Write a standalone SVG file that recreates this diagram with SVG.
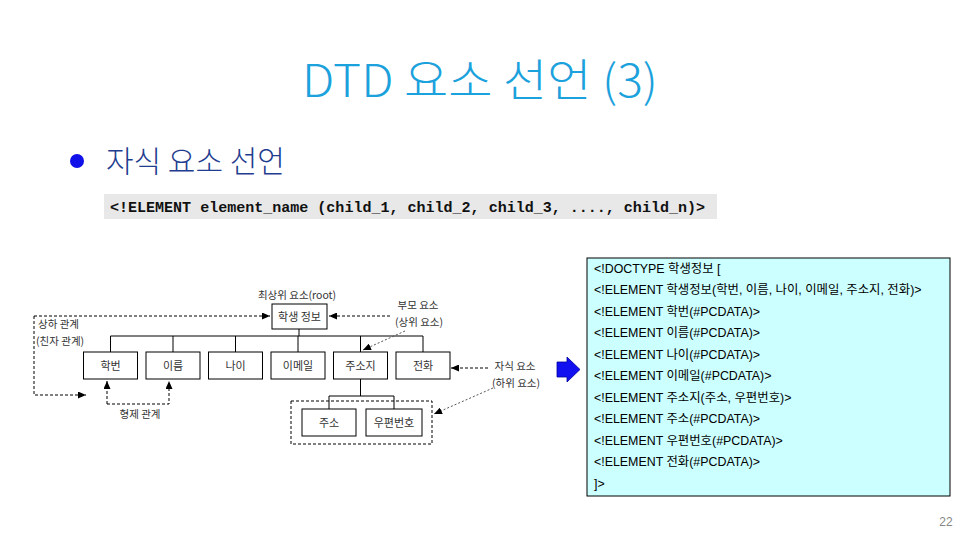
<svg xmlns="http://www.w3.org/2000/svg" width="960" height="540" viewBox="0 0 960 540">
<style>
.title{font-family:"Noto Sans CJK KR","Noto Sans",sans-serif;font-size:45px;fill:#1ba1dc;font-weight:300}
.sub{font-family:"Noto Sans CJK KR",sans-serif;font-size:30px;fill:#1f3d8f;font-weight:300}
.code{font-family:"Liberation Mono",monospace;font-size:15px;font-weight:bold;fill:#111}
.box{fill:#fff;stroke:#000;stroke-width:1}
.bl{font-family:"Noto Sans CJK KR",sans-serif;font-size:11px;fill:#333;text-anchor:middle}
.lbl{font-family:"Noto Sans CJK KR",sans-serif;font-size:10.5px;fill:#333}
.ln{stroke:#000;stroke-width:1;fill:none}
.dash{stroke:#000;stroke-width:1;fill:none;stroke-dasharray:3,2}
.dot{stroke:#555;stroke-width:1;fill:none;stroke-dasharray:2,2}
.dtd{font-family:"Liberation Sans","Noto Sans CJK KR",sans-serif;font-size:12.4px;fill:#000}
</style>
<defs>
<marker id="ah" markerUnits="userSpaceOnUse" markerWidth="9" markerHeight="7" refX="8" refY="3.5" orient="auto">
<path d="M0,0 L8,3.5 L0,7 z" fill="#000"/>
</marker>
</defs>
<rect width="960" height="540" fill="#fff"/>
<text class="title" x="480" y="97" text-anchor="middle" textLength="356" lengthAdjust="spacingAndGlyphs">DTD 요소 선언 (3)</text>
<circle cx="77" cy="161" r="7" fill="#1010e8"/>
<text class="sub" x="106" y="172">자식 요소 선언</text>
<rect x="104" y="194" width="613" height="25" fill="#e8e8e8"/>
<text class="code" x="110" y="212" textLength="595" lengthAdjust="spacingAndGlyphs">&lt;!ELEMENT element_name (child_1, child_2, child_3, ...., child_n)&gt;</text>

<g id="connectors">
<path class="ln" d="M299,329 V336 M110.5,336 H423 M110.5,336 V352 M173,336 V352 M235.5,336 V352 M298,336 V352 M360.5,336 V352 M423,336 V352"/>
<path class="ln" d="M360.5,379 V396 M329,396 H394 M329,396 V409 M394,396 V409"/>
<path class="dash" d="M34,316 H270" marker-end="url(#ah)"/>
<path class="dash" d="M34,316 V395 H86" marker-end="url(#ah)"/>
<path class="dash" d="M107,404 V381" marker-end="url(#ah)"/>
<path class="dash" d="M107,404 H169 V381" marker-end="url(#ah)"/>
<path class="dash" d="M390,316 H329" marker-end="url(#ah)"/>
<path class="dot" d="M405,331 L363,350" marker-end="url(#ah)"/>
<path class="dash" d="M488,368 H451" marker-end="url(#ah)"/>
<path class="dot" d="M493,388 L434,414" marker-end="url(#ah)"/>
<rect class="dash" x="291" y="401" width="141" height="43"/>
</g>

<text class="lbl" x="297" y="299" text-anchor="middle">최상위 요소(root)</text>
<text class="lbl" x="418" y="309" text-anchor="middle">부모 요소</text>
<text class="lbl" x="419" y="326" text-anchor="middle">(상위 요소)</text>
<text class="lbl" x="38" y="328">상하 관계</text>
<text class="lbl" x="36" y="345">(친자 관계)</text>
<text class="lbl" x="515" y="370" text-anchor="middle">자식 요소</text>
<text class="lbl" x="516" y="387" text-anchor="middle">(하위 요소)</text>
<text class="lbl" x="140" y="418" text-anchor="middle">형제 관계</text>

<g id="n-root"><rect class="box" x="272" y="304" width="55" height="25"/><text class="bl" x="299.5" y="321">학생 정보</text></g>
<g id="n-hakbeon"><rect class="box" x="83.5" y="352" width="54" height="27"/><text class="bl" x="110.5" y="370">학번</text></g>
<g id="n-ireum"><rect class="box" x="146" y="352" width="54" height="27"/><text class="bl" x="173" y="370">이름</text></g>
<g id="n-nai"><rect class="box" x="208.5" y="352" width="54" height="27"/><text class="bl" x="235.5" y="370">나이</text></g>
<g id="n-email"><rect class="box" x="271" y="352" width="54" height="27"/><text class="bl" x="298" y="370">이메일</text></g>
<g id="n-juso-ji"><rect class="box" x="333.5" y="352" width="54" height="27"/><text class="bl" x="360.5" y="370">주소지</text></g>
<g id="n-jeonhwa"><rect class="box" x="396" y="352" width="54" height="27"/><text class="bl" x="423" y="370">전화</text></g>
<g id="n-juso"><rect class="box" x="302" y="409" width="54" height="27"/><text class="bl" x="329" y="427">주소</text></g>
<g id="n-upyeon"><rect class="box" x="366" y="409" width="56" height="27"/><text class="bl" x="394" y="427">우편번호</text></g>

<g id="blue-arrow"><path d="M557,362 H567 V357 L580,369.5 L567,382 V377 H557 z" fill="#1010f0" stroke="#0000a0" stroke-width="0.8"/></g>

<g id="dtd-box">
<rect x="587" y="258" width="363" height="238" fill="#ccffff" stroke="#000" stroke-width="1"/>
<text class="dtd" x="594" y="272.5">&lt;!DOCTYPE 학생정보 [</text>
<text class="dtd" x="594" y="294">&lt;!ELEMENT 학생정보(학번, 이름, 나이, 이메일, 주소지, 전화)&gt;</text>
<text class="dtd" x="594" y="315.5">&lt;!ELEMENT 학번(#PCDATA)&gt;</text>
<text class="dtd" x="594" y="337">&lt;!ELEMENT 이름(#PCDATA)&gt;</text>
<text class="dtd" x="594" y="358.5">&lt;!ELEMENT 나이(#PCDATA)&gt;</text>
<text class="dtd" x="594" y="380">&lt;!ELEMENT 이메일(#PCDATA)&gt;</text>
<text class="dtd" x="594" y="401.5">&lt;!ELEMENT 주소지(주소, 우편번호)&gt;</text>
<text class="dtd" x="594" y="423">&lt;!ELEMENT 주소(#PCDATA)&gt;</text>
<text class="dtd" x="594" y="444.5">&lt;!ELEMENT 우편번호(#PCDATA)&gt;</text>
<text class="dtd" x="594" y="466">&lt;!ELEMENT 전화(#PCDATA)&gt;</text>
<text class="dtd" x="594" y="487.5">]&gt;</text>
</g>
<text x="946" y="526" text-anchor="middle" font-family="Liberation Sans,sans-serif" font-size="12" fill="#888">22</text>
</svg>
